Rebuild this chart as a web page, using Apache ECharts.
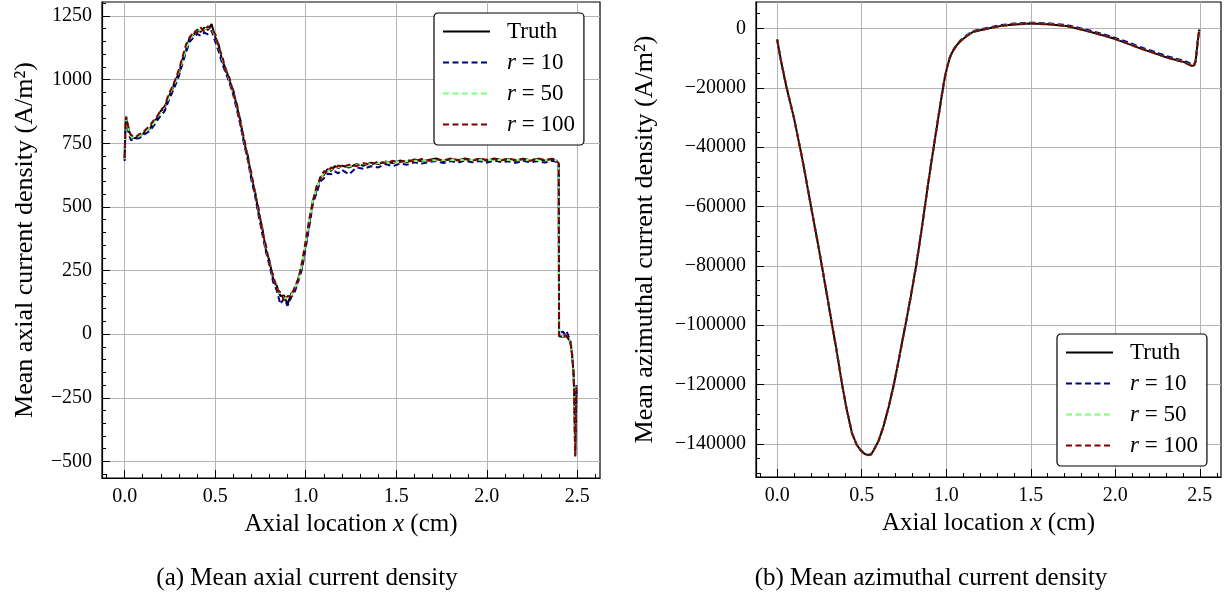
<!DOCTYPE html>
<html><head><meta charset="utf-8">
<script src="https://cdn.jsdelivr.net/npm/echarts@6/dist/echarts.min.js"></script>
<style>html,body{margin:0;padding:0;background:#fff}#c{width:1228px;height:597px}</style>
</head><body><div id="c"></div>
<script>
// ---------- Left panel: mean axial current density (A/m^2) ----------
const xL = [0,0.004,0.008,0.015,0.025,0.035,0.045,
 0.06,0.08,0.10,0.12,0.14,0.16,0.18,0.20,0.22,0.24,0.26,0.28,0.30,0.32,0.34,0.36,0.38,0.40,0.42,0.44,0.46,0.48,0.50,0.52,0.54,0.56,0.58,0.60,0.62,0.64,0.66,0.68,0.70,0.72,0.74,0.76,0.78,0.80,0.82,0.84,0.86,0.88,0.90,0.92,0.94,0.96,0.98,1.00,1.02,1.04,1.06,1.08,1.10,1.12,1.14,1.16,1.18,1.20,
 1.24,1.28,1.32,1.36,1.40,1.44,1.48,1.52,1.56,1.60,1.64,1.68,1.72,1.76,1.80,1.84,1.88,1.92,1.96,2.00,2.04,2.08,2.12,2.16,2.20,2.24,2.28,2.32,2.36,2.38,
 2.39,2.397,2.399,2.41,2.42,2.43,2.44,2.45,2.46,2.465,2.47,2.475,2.48,2.484,2.488,2.495];
const truthL = [690,810,852,828,796,780,772,
 770,782,786,803,808,835,848,878,886,930,955,998,1024,1082,1118,1168,1176,1196,1188,1204,1195,1218,1168,1136,1070,1042,994,958,893,838,752,702,618,562,478,418,332,288,218,190,150,152,118,160,174,222,268,352,436,528,565,616,626,648,642,660,652,662,
 655,668,662,674,668,678,672,682,676,686,679,684,690,680,688,682,690,683,688,681,690,684,687,681,689,683,688,682,689,684,
 686,670,-8,-6,-10,-4,-8,-12,-28,-48,-75,-115,-170,-280,-478,-205];
const r10L = [680,805,840,815,780,762,758,
 768,770,780,790,800,818,840,860,875,912,945,978,1015,1065,1110,1150,1165,1180,1172,1185,1178,1192,1150,1110,1060,1025,985,940,880,820,745,685,605,545,465,395,325,270,205,172,118,140,112,145,168,210,258,340,425,515,555,600,612,630,628,640,632,645,
 628,655,650,660,655,668,660,670,666,675,670,676,680,672,680,674,682,675,680,674,682,676,679,673,681,675,680,674,681,678,
 682,668,2,4,10,0,12,-6,-22,-42,-70,-112,-165,-275,-470,-200];
const r50L = [688,808,848,825,792,776,770,
 772,778,790,798,812,828,852,870,892,922,962,990,1032,1074,1124,1158,1182,1188,1196,1196,1205,1198,1172,1128,1078,1036,998,948,898,828,762,692,626,552,486,408,342,278,226,182,158,140,142,152,182,212,278,362,448,526,575,610,632,640,648,652,656,658,
 660,664,667,670,672,675,676,678,679,681,681,683,683,684,684,684,685,684,685,684,685,684,685,684,685,684,685,684,685,684,
 685,668,-5,-5,-8,-4,-6,-10,-26,-46,-72,-113,-168,-278,-476,-205];
const r100L = [692,812,855,832,798,782,775,
 774,785,792,806,820,840,856,882,895,936,968,1000,1040,1090,1140,1165,1190,1184,1205,1190,1210,1195,1180,1125,1090,1030,1005,945,905,822,770,688,634,548,494,402,350,272,232,176,165,132,150,148,186,218,285,368,455,522,582,608,640,636,655,648,663,656,
 666,660,672,666,678,671,681,675,684,678,688,681,687,683,690,684,688,681,690,685,688,682,690,684,687,681,690,685,687,683,
 684,672,-6,-4,-9,-2,-5,-11,-27,-47,-74,-114,-170,-282,-480,-208];

// ---------- Right panel: mean azimuthal current density (A/m^2) ----------
const xR = [0,0.012,0.024,0.055,0.1,0.15,0.2,0.25,0.3,0.325,0.35,0.384,0.41,0.443,0.47,0.493,0.515,0.535,0.555,0.572,0.6,0.628,0.66,0.69,0.72,0.745,0.766,0.79,0.822,0.85,0.869,0.89,0.911,0.93,0.947,0.962,0.976,0.99,1.006,1.02,1.036,1.06,1.085,1.12,1.16,1.24,1.318,1.4,1.5,1.6,1.71,1.78,1.85,1.92,1.99,2.07,2.147,2.23,2.305,2.36,2.403,2.43,2.452,2.465,2.474,2.48,2.487,2.497];
const truthR = [-3700,-7500,-11250,-19700,-30300,-44300,-59900,-75300,-91600,-100000,-108000,-120000,-128000,-136500,-140300,-142100,-143300,-143800,-143600,-142100,-139000,-134300,-127500,-120000,-111500,-104000,-97800,-90500,-80000,-69500,-62000,-53500,-45500,-38500,-32200,-26800,-21800,-17000,-12900,-10100,-7900,-5800,-4200,-2600,-1100,-100,800,1350,1700,1450,800,-100,-1100,-2200,-3400,-5000,-6700,-8300,-9800,-10600,-11250,-11900,-12600,-12500,-11300,-8500,-4500,-340];
const r10R = [-3650,-7450,-11200,-19650,-30250,-44250,-59850,-75250,-91550,-99950,-107950,-119950,-127950,-136450,-140250,-142050,-143250,-143750,-143550,-142050,-138950,-134250,-127450,-119950,-111450,-103950,-97750,-90450,-79950,-69450,-61950,-53450,-45450,-38450,-32150,-26750,-21700,-16850,-12750,-9900,-7700,-5550,-3950,-2300,-800,200,1100,1650,1950,1750,1150,300,-700,-1800,-3000,-4550,-6250,-7850,-9350,-10150,-10800,-11450,-12150,-12100,-11000,-8250,-4300,-250];
const r50R = [-3700,-7500,-11250,-19700,-30300,-44300,-59900,-75300,-91600,-100000,-108000,-120000,-128000,-136500,-140300,-142100,-143300,-143800,-143600,-142100,-139000,-134300,-127500,-120000,-111500,-104000,-97800,-90500,-80000,-69500,-62000,-53500,-45500,-38500,-32200,-26800,-21800,-17000,-12900,-10100,-7900,-5800,-4200,-2600,-1100,-100,800,1350,1700,1450,800,-100,-1100,-2200,-3400,-5000,-6700,-8300,-9800,-10600,-11250,-11900,-12600,-12500,-11300,-8500,-4500,-340];
const r100R = [-3720,-7520,-11270,-19720,-30320,-44320,-59920,-75320,-91620,-100020,-108020,-120020,-128020,-136520,-140320,-142120,-143320,-143850,-143620,-142120,-139020,-134320,-127520,-120020,-111520,-104020,-97820,-90520,-80020,-69520,-62020,-53520,-45520,-38520,-32220,-26820,-21820,-17020,-12920,-10120,-7920,-5820,-4220,-2620,-1120,-120,780,1330,1680,1430,780,-120,-1120,-2220,-3420,-5020,-6720,-8320,-9820,-10650,-11300,-12000,-12700,-12600,-11350,-8550,-4550,-380];

// ---------- Ticks, names ----------
const xTicks = [0, 0.5, 1.0, 1.5, 2.0, 2.5];
const yTicksL = [-500, -250, 0, 250, 500, 750, 1000, 1250];
const yTicksR = [-140000, -120000, -100000, -80000, -60000, -40000, -20000, 0];
const seriesNames = ['Truth', 'r10', 'r50', 'r100'];
const legendText = {'Truth': 'Truth', 'r10': '{i|r} = 10', 'r50': '{i|r} = 50', 'r100': '{i|r} = 100'};
const colors = ['#000000', '#000080', '#7dff7a', '#800000'];
const xName = 'Axial location {i|x} (cm)';
const yNameL = 'Mean axial current density (A/m²)';
const yNameR = 'Mean azimuthal current density (A/m²)';
const captionL = '(a) Mean axial current density';
const captionR = '(b) Mean azimuthal current density';

const FF = "'Liberation Serif', 'DejaVu Serif', serif";
function steps(a, b, s) { const out = []; const n = Math.round((b - a) / s); for (let k = 0; k <= n; k++) out.push(+(a + k * s).toFixed(6)); return out; }
const xMinor = steps(-0.1, 2.6, 0.1);
const yMinorL = steps(-550, 1300, 50);
const yMinorR = steps(-150000, 5000, 5000);
const minus = v => String(v).replace('-', '\u2212');

const grids = [
  {left: 102, top: 2, width: 498, height: 476},
  {left: 756, top: 2, width: 465, height: 475}
];
const yRange = [[-565, 1305], [-151200, 8930]];
const yMajor = [yTicksL, yTicksR];
const yMinor = [yMinorL, yMinorR];
const yNames = [yNameL, yNameR];
const yNameGap = [64, 98];

const xAxes = [], yAxes = [];
[0, 1].forEach(g => {
  xAxes.push({
    type: 'value', gridIndex: g, min: -0.125, max: 2.625, position: 'bottom',
    name: xName, nameLocation: 'middle', nameGap: 31,
    nameTextStyle: {fontFamily: FF, fontSize: 25, color: '#000', rich: {i: {fontFamily: FF, fontSize: 25, fontStyle: 'italic', color: '#000'}}},
    axisLine: {show: true, onZero: false, lineStyle: {color: '#000', width: 1.2}},
    axisTick: {show: true, inside: true, length: 8, customValues: xTicks, lineStyle: {color: '#000', width: 1}},
    axisLabel: {customValues: xTicks, formatter: v => v.toFixed(1), margin: 9, color: '#000', fontSize: 20, fontFamily: FF},
    splitLine: {show: true, lineStyle: {color: '#b4b4b4', width: 1}}
  });
  xAxes.push({
    type: 'value', gridIndex: g, min: -0.125, max: 2.625, position: 'bottom',
    axisLine: {show: false, onZero: false}, axisLabel: {show: false}, splitLine: {show: false},
    axisTick: {show: true, inside: true, length: 4, customValues: xMinor, lineStyle: {color: '#000', width: 1}}
  });
  yAxes.push({
    type: 'value', gridIndex: g, min: yRange[g][0], max: yRange[g][1], position: 'left',
    name: yNames[g], nameLocation: 'middle', nameGap: yNameGap[g],
    nameTextStyle: {fontFamily: FF, fontSize: 26, color: '#000'},
    axisLine: {show: true, onZero: false, lineStyle: {color: '#000', width: 1.2}},
    axisTick: {show: true, inside: true, length: 8, customValues: yMajor[g], lineStyle: {color: '#000', width: 1}},
    axisLabel: {customValues: yMajor[g], formatter: minus, margin: 10, color: '#000', fontSize: 20, fontFamily: FF},
    splitLine: {show: true, lineStyle: {color: '#b4b4b4', width: 1}}
  });
  yAxes.push({
    type: 'value', gridIndex: g, min: yRange[g][0], max: yRange[g][1], position: 'left',
    axisLine: {show: false, onZero: false}, axisLabel: {show: false}, splitLine: {show: false},
    axisTick: {show: true, inside: true, length: 4, customValues: yMinor[g], lineStyle: {color: '#000', width: 1}}
  });
});

const dataL = [truthL, r10L, r50L, r100L];
const dataR = [truthR, r10R, r50R, r100R];
const series = [];
[[xL, dataL, 0], [xR, dataR, 2]].forEach(([xs, sets, ai]) => {
  sets.forEach((vals, k) => {
    series.push({
      name: seriesNames[k], type: 'line', xAxisIndex: ai, yAxisIndex: ai,
      data: xs.map((x, i) => [x, vals[i]]),
      symbol: 'none', showSymbol: false, smooth: false,
      lineStyle: {color: colors[k], width: 2, type: k === 0 ? 'solid' : [6, 3.5]},
      itemStyle: {color: colors[k]},
      z: 2 + k
    });
  });
});

function legendAt(left, top) {
  return {
    data: seriesNames, orient: 'vertical', left: left, top: top,
    itemWidth: 47, itemHeight: 23, itemGap: 8,
    padding: [7, 9, 9, 8], borderColor: '#000', borderWidth: 1.2, borderRadius: 4, backgroundColor: '#fff',
    formatter: n => legendText[n],
    itemStyle: {opacity: 0},
    textStyle: {fontFamily: FF, fontSize: 23, color: '#000', padding: [0, 0, 0, 12],
      rich: {i: {fontFamily: FF, fontSize: 23, fontStyle: 'italic', color: '#000'}}},
    selectedMode: false
  };
}

const chart = echarts.init(document.getElementById('c'), null, {renderer: 'canvas'});
chart.setOption({
  animation: false,
  backgroundColor: '#fff',
  grid: grids.map(g => Object.assign({show: true, borderColor: '#000', borderWidth: 1.2, backgroundColor: 'transparent', containLabel: false}, g)),
  xAxis: xAxes,
  yAxis: yAxes,
  legend: [legendAt(434, 13), legendAt(1057, 334)],
  series: series,
  graphic: [
    {type: 'text', x: 307, y: 578, style: {text: captionL, font: "25px 'Liberation Serif', serif", fill: '#000', align: 'center', verticalAlign: 'middle'}},
    {type: 'text', x: 931, y: 578, style: {text: captionR, font: "25px 'Liberation Serif', serif", fill: '#000', align: 'center', verticalAlign: 'middle'}}
  ]
});
</script></body></html>
